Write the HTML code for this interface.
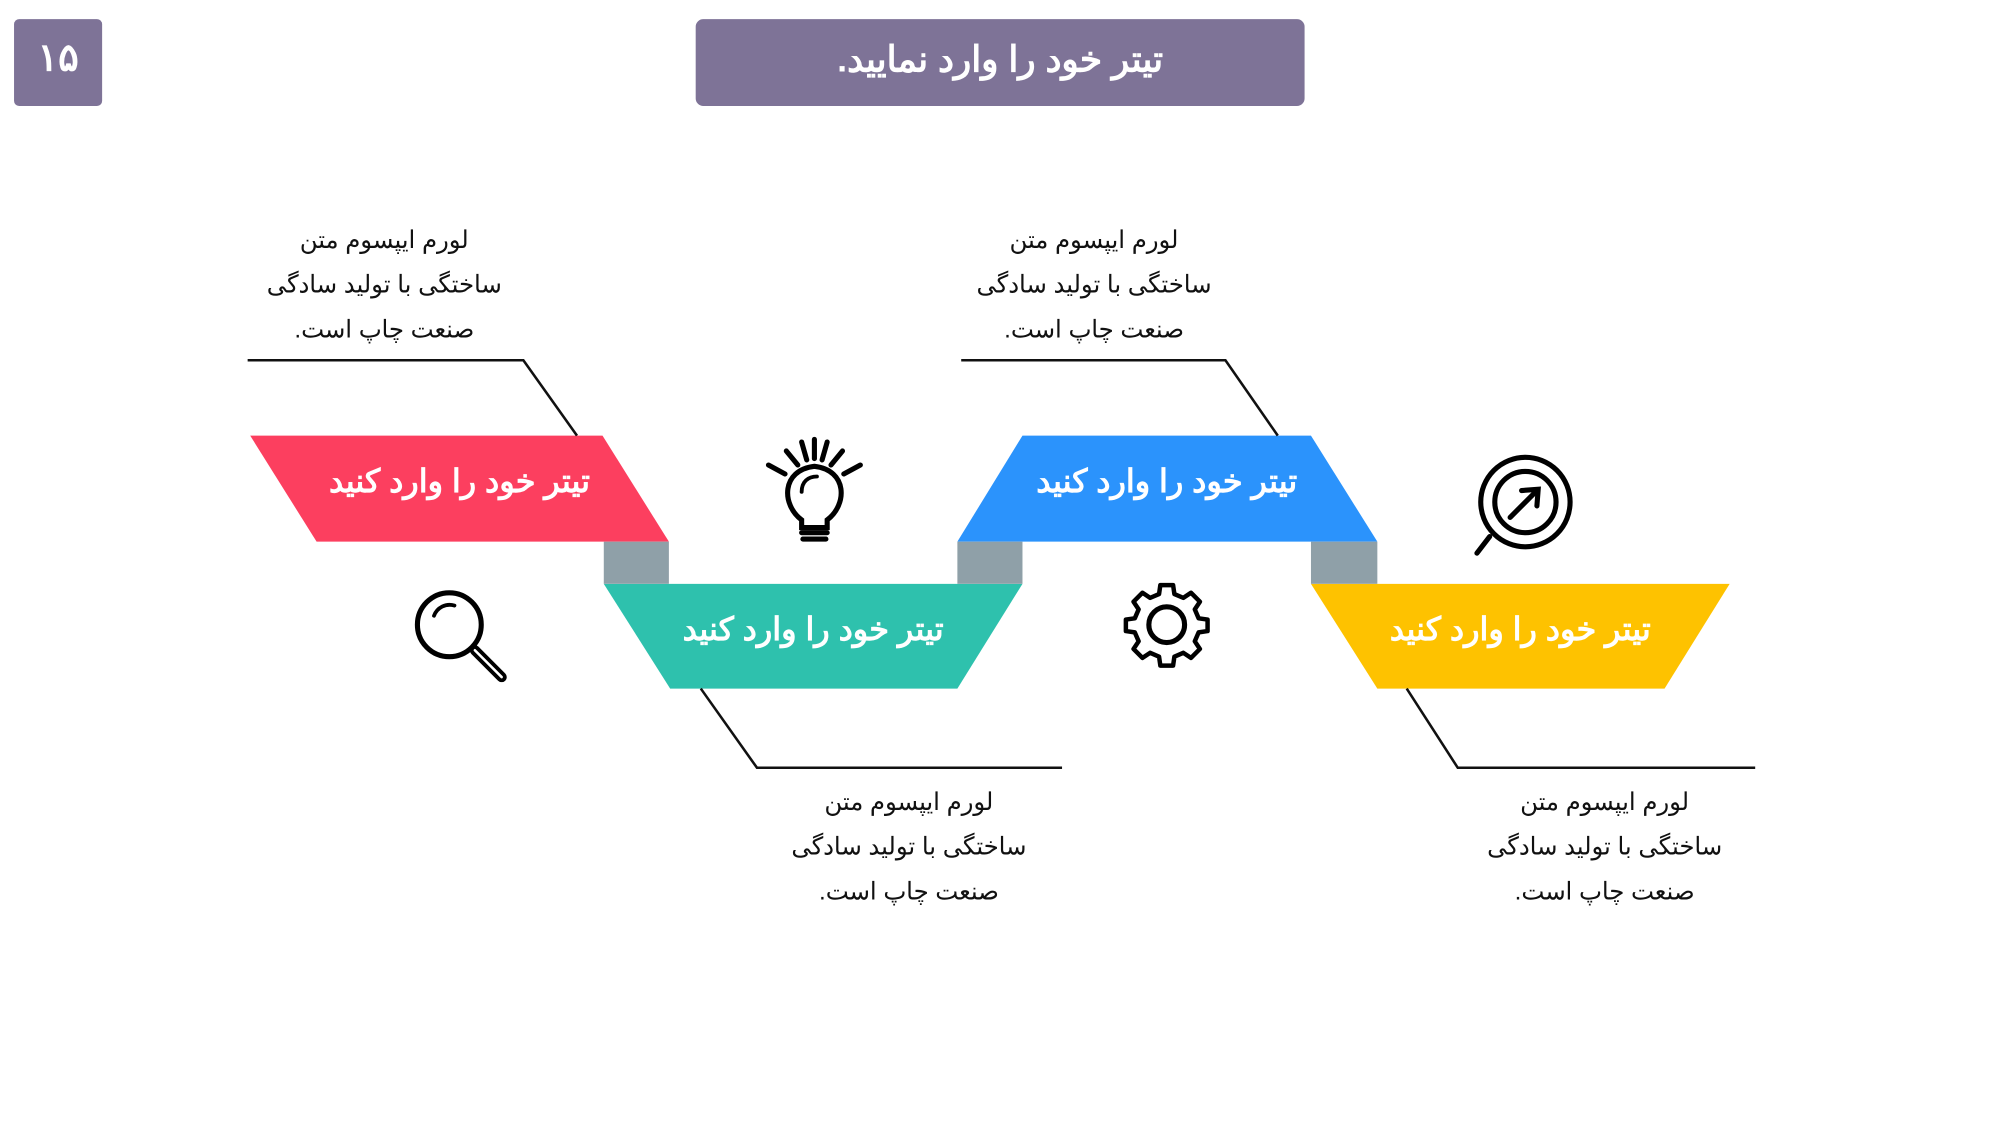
<!DOCTYPE html>
<html><head><meta charset="utf-8"><style>
html,body{margin:0;padding:0;width:2000px;height:1125px;overflow:hidden;background:#fff}
#w{position:absolute;left:0;top:0;width:1570px;height:881px;transform:scale(1.2765,1.2775);transform-origin:0 0}
.t{position:absolute;font-family:"Liberation Sans","Noto Sans CJK SC",sans-serif;direction:rtl;text-align:center;color:#111}
.d{font-size:19px;line-height:35px;width:280px}
.h{font-size:25px;color:#fff;width:320px;font-weight:bold}
</style></head><body><div id="w">
<svg width="1570" height="881" style="position:absolute;left:0;top:0">
<rect x="11" y="15" width="69" height="68" rx="4" fill="#7e7397"/>
<rect x="545" y="15" width="477" height="68" rx="6" fill="#7e7397"/>
<polygon points="196,341 472,341 524,424 248,424" fill="#fc3f5f"/>
<polygon points="801,341 1027,341 1079,424 750,424" fill="#2b93fc"/>
<polygon points="473,457 801,457 750,539 525,539" fill="#2ec1ad"/>
<polygon points="1027,457 1355,457 1304,539 1079,539" fill="#fec200"/>
<rect x="473" y="424" width="51" height="33" fill="#8fa0a8"/>
<rect x="750" y="424" width="51" height="33" fill="#8fa0a8"/>
<rect x="1027" y="424" width="52" height="33" fill="#8fa0a8"/>
<g fill="none" stroke="#111" stroke-width="2">
<polyline points="194,282 410,282 452,341"/>
<polyline points="753,282 960,282 1001,341"/>
<polyline points="549,539 593,601 832,601"/>
<polyline points="1102,539 1142,601 1375,601"/>
</g>
<g fill="none" stroke="#000" stroke-width="4" stroke-linecap="round">
<path d="M628,407 C612,395 612,368 638,365 C664,368 664,395 648,407 L648,413 L628,413 Z"/>
<path d="M628,385 C628,377 633,373 640,373" stroke-width="3"/>
<line x1="628" y1="417" x2="648" y2="417"/><line x1="629" y1="422" x2="647" y2="422"/>
<line x1="638" y1="344" x2="638" y2="359"/><line x1="628" y1="346" x2="632" y2="360"/><line x1="648" y1="346" x2="644" y2="360"/>
<line x1="616" y1="353" x2="625" y2="364"/><line x1="660" y1="353" x2="651" y2="364"/>
<line x1="602" y1="364" x2="615" y2="371"/><line x1="674" y1="364" x2="661" y2="371"/>
<circle cx="352" cy="489" r="25"/>
<path d="M340,482 A13,13 0 0 1 356,474" stroke-width="3"/>
<line x1="372" y1="509" x2="393" y2="530" stroke-width="8"/>
<line x1="372" y1="509" x2="393" y2="530" stroke="#fff" stroke-width="2"/>
<circle cx="1195" cy="393" r="35"/>
<circle cx="1195" cy="393" r="24"/>
<line x1="1183" y1="405" x2="1204" y2="384"/>
<polyline points="1192,384 1205,383 1204,396"/>
<line x1="1167" y1="420" x2="1157" y2="433"/>
<circle cx="914" cy="489" r="14"/>
</g>
<g transform="translate(914,489)">
<path fill="none" stroke="#000" stroke-width="3.5" stroke-linejoin="round" d="M-5,-31 L5,-31 L6,-24 L13,-21 L19,-25 L26,-18 L22,-12 L25,-5 L32,-4 L32,5 L25,6 L22,13 L26,19 L19,26 L13,22 L6,25 L5,32 L-5,32 L-6,25 L-13,22 L-19,26 L-26,19 L-22,13 L-25,6 L-32,5 L-32,-4 L-25,-5 L-22,-12 L-26,-18 L-19,-25 L-13,-21 L-6,-24 Z"/>
</g>
</svg>
<div class="t" style="left:11px;top:28px;width:69px;color:#fff;font-size:30px;font-weight:bold;line-height:36px">۱۵</div>
<div class="t" style="left:545px;top:29px;width:477px;color:#fff;font-size:28px;font-weight:bold;line-height:36px">تیتر خود را وارد نمایید.</div>
<div class="t h" style="left:200px;top:362px">تیتر خود را وارد کنید</div>
<div class="t h" style="left:754px;top:362px">تیتر خود را وارد کنید</div>
<div class="t h" style="left:477px;top:478px">تیتر خود را وارد کنید</div>
<div class="t h" style="left:1031px;top:478px">تیتر خود را وارد کنید</div>
<div class="t d" style="left:161px;top:171px">لورم ایپسوم متن<br>ساختگی با تولید سادگی<br>صنعت چاپ است.</div>
<div class="t d" style="left:717px;top:171px">لورم ایپسوم متن<br>ساختگی با تولید سادگی<br>صنعت چاپ است.</div>
<div class="t d" style="left:572px;top:611px">لورم ایپسوم متن<br>ساختگی با تولید سادگی<br>صنعت چاپ است.</div>
<div class="t d" style="left:1117px;top:611px">لورم ایپسوم متن<br>ساختگی با تولید سادگی<br>صنعت چاپ است.</div>
</div></body></html>
